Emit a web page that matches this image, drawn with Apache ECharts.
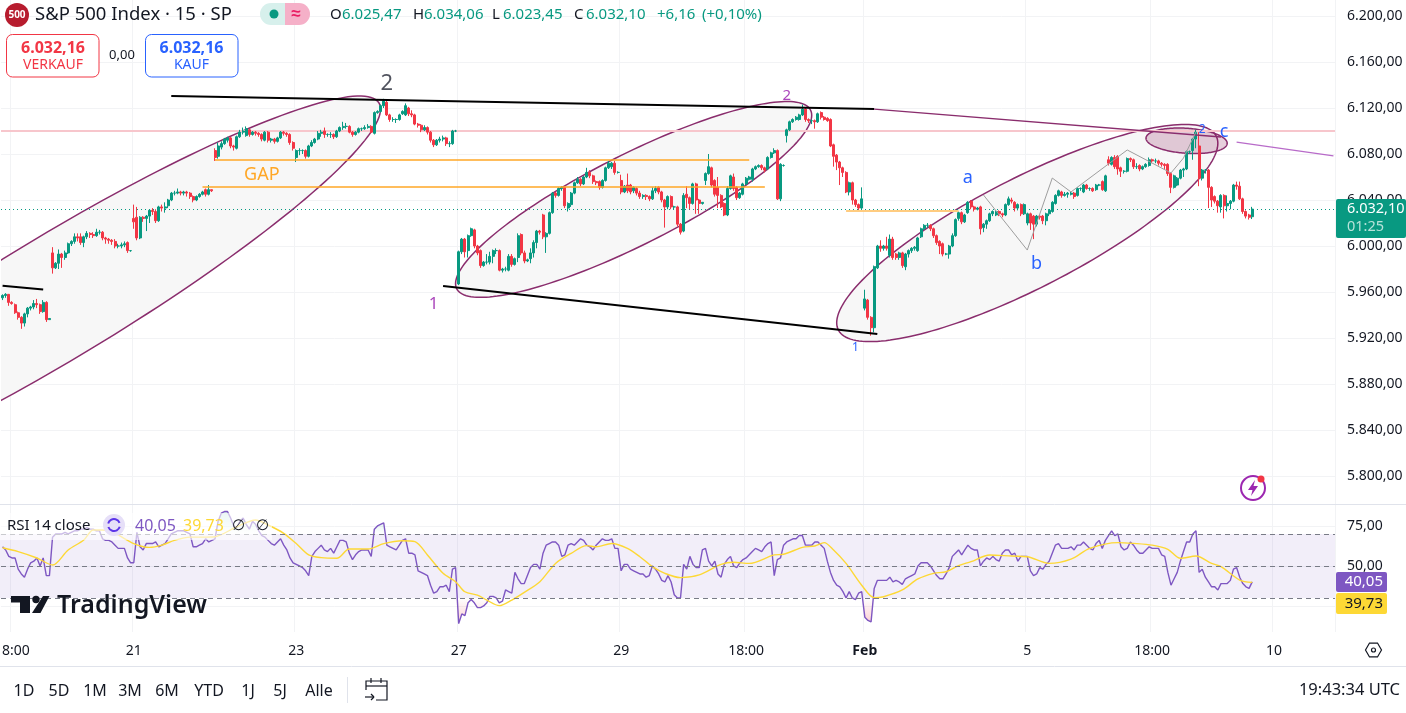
<!DOCTYPE html>
<html><head><meta charset="utf-8"><style>html,body{margin:0;padding:0;background:#fff}#c{width:1406px;height:713px}</style>
<script src="https://cdn.jsdelivr.net/npm/echarts@6/dist/echarts.min.js"></script></head><body><div id="c"></div><script>
// rows: open, close, low, high
const jan16=[[5955,5957,5953,5958],[5957,5958,5955,5959],[5958,5951,5948,5958],[5951,5950,5949,5952],[5949,5942,5941,5950],[5942,5938,5936,5943],[5938,5933,5928,5939],[5933,5941,5930,5942],[5941,5946,5938,5947],[5946,5947,5944,5948],[5947,5950,5945,5953],[5950,5949,5946,5954],[5949,5943,5941,5950],[5943,5951,5942,5953],[5951,5936,5934,5952],[5936,5937,5936,5937]];
const jan17=[[5994,5981,5976,5999],[5981,5985,5980,5986],[5985,5993,5980,5997],[5993,5990,5981,5994],[5990,5994,5988,5996],[5994,6002,5993,6003],[6002,6004,6000,6005],[6004,6008,6002,6011],[6008,6007,6004,6011],[6008,6003,6001,6011],[6003,6008,5999,6009],[6008,6011,6006,6013],[6011,6010,6007,6012],[6010,6009,6007,6012],[6009,6012,6008,6015],[6012,6012,6010,6014],[6012,6007,6005,6013],[6007,6006,6002,6008],[6006,6005,6002,6007],[6005,6004,6001,6006],[6004,6000,5998,6006],[6000,6000,5998,6002],[6000,6001,5998,6003],[6001,6002,5999,6004],[6003,5996,5994,6004],[5996,5996,5995,5996]];
const jan21=[[6024,6021,6015,6036],[6025,6007,6005,6034],[6007,6025,6006,6026],[6025,6024,6021,6026],[6024,6026,6013,6027],[6026,6031,6020,6032],[6031,6030,6027,6033],[6030,6022,6020,6032],[6022,6034,6021,6035],[6034,6033,6030,6036],[6033,6034,6029,6038],[6035,6040,6033,6041],[6040,6046,6039,6047],[6046,6046,6044,6048],[6046,6047,6045,6050],[6047,6046,6044,6048],[6046,6047,6044,6048],[6047,6046,6043,6048],[6046,6043,6041,6047],[6043,6040,6038,6044],[6040,6043,6039,6044],[6043,6045,6042,6046],[6045,6047,6044,6048],[6049,6045,6043,6050],[6045,6049,6044,6053],[6049,6048,6047,6049]];
const jan22=[[6083,6077,6074,6085],[6078,6087,6076,6090],[6086,6089,6084,6091],[6089,6093,6088,6094],[6092,6094,6090,6095],[6094,6087,6085,6095],[6087,6086,6083,6088],[6085,6095,6084,6096],[6095,6099,6094,6101],[6099,6100,6097,6103],[6096,6102,6095,6104],[6101,6097,6095,6102],[6097,6099,6096,6100],[6099,6098,6096,6100],[6098,6097,6095,6099],[6097,6093,6091,6098],[6092,6099,6091,6100],[6099,6092,6090,6100],[6092,6093,6090,6094],[6093,6091,6089,6094],[6091,6094,6090,6095],[6094,6099,6093,6100],[6099,6098,6096,6100],[6098,6097,6095,6099],[6097,6090,6088,6098],[6090,6085,6083,6091]];
const jan23=[[6077,6083,6073,6084],[6083,6083,6079,6085],[6083,6083,6080,6084],[6083,6078,6076,6084],[6078,6087,6077,6088],[6087,6090,6086,6092],[6090,6093,6089,6094],[6093,6098,6092,6100],[6098,6099,6095,6101],[6100,6097,6094,6103],[6097,6097,6095,6098],[6097,6097,6094,6099],[6097,6095,6093,6098],[6095,6100,6094,6101],[6100,6103,6099,6104],[6103,6104,6101,6108],[6104,6104,6102,6107],[6104,6099,6098,6105],[6099,6097,6095,6100],[6097,6099,6096,6100],[6099,6102,6098,6103],[6102,6102,6100,6103],[6102,6103,6101,6105],[6103,6104,6102,6106],[6104,6099,6098,6105],[6098,6116,6097,6117]];
const jan24=[[6116,6117,6115,6118],[6117,6122,6116,6123],[6122,6126,6120,6128],[6125,6114,6113,6127],[6114,6110,6108,6115],[6110,6110,6108,6112],[6110,6110,6107,6111],[6110,6114,6109,6115],[6115,6117,6114,6118],[6114,6122,6113,6124],[6120,6115,6113,6121],[6115,6114,6112,6118],[6114,6106,6105,6115],[6106,6105,6103,6107],[6105,6101,6099,6106],[6101,6103,6100,6105],[6103,6099,6097,6104],[6099,6092,6090,6100],[6092,6088,6086,6093],[6088,6092,6087,6093],[6092,6093,6090,6095],[6093,6094,6091,6096],[6094,6089,6087,6095],[6089,6089,6086,6091],[6089,6100,6088,6101],[6100,6100,6099,6101]];
const jan27=[[5967,5995,5966,5996],[5995,6006,5993,6007],[6006,5995,5990,6007],[5996,6009,5990,6010],[6009,6015,6008,6016],[6014,6000,5998,6015],[6000,5994,5992,6001],[5996,5983,5981,5997],[5983,5986,5982,5987],[5986,5986,5984,5993],[5986,5991,5984,5995],[5991,5996,5985,5997],[5996,5996,5993,5998],[5996,5979,5978,5997],[5979,5980,5977,5981],[5980,5980,5978,5982],[5979,5991,5978,5993],[5991,5984,5982,5993],[5984,5989,5983,5990],[5990,6009,5986,6011],[6010,5994,5992,6011],[5994,5987,5985,5996],[5987,5988,5986,5989],[5989,5994,5985,5998],[5994,6003,5990,6005],[6003,6013,5998,6014]];
const jan28=[[6013,6012,6010,6014],[6027,6008,6006,6028],[6008,6011,5994,6012],[6011,6029,6010,6030],[6029,6046,6028,6047],[6046,6044,6042,6047],[6044,6050,6043,6051],[6050,6051,6048,6052],[6051,6035,6033,6052],[6033,6037,6030,6038],[6036,6046,6034,6047],[6046,6055,6045,6056],[6055,6058,6054,6060],[6058,6054,6052,6059],[6054,6060,6053,6061],[6060,6064,6059,6068],[6064,6061,6059,6066],[6061,6056,6054,6062],[6056,6055,6053,6057],[6056,6051,6049,6057],[6051,6057,6050,6058],[6057,6068,6056,6069],[6068,6072,6067,6074],[6069,6072,6067,6073],[6072,6064,6062,6074],[6064,6064,6063,6065]];
const jan29=[[6057,6047,6045,6062],[6047,6052,6046,6053],[6053,6048,6046,6063],[6053,6047,6045,6054],[6048,6051,6046,6052],[6050,6046,6044,6051],[6046,6043,6041,6048],[6043,6044,6041,6045],[6044,6043,6040,6045],[6043,6041,6039,6044],[6041,6048,6040,6051],[6048,6050,6046,6052],[6051,6047,6045,6052],[6047,6040,6038,6048],[6040,6034,6016,6041],[6034,6043,6032,6044],[6043,6034,6032,6044],[6034,6034,6032,6035],[6034,6019,6017,6035],[6019,6012,6010,6020],[6013,6044,6012,6046],[6045,6042,6033,6052],[6042,6037,6032,6043],[6037,6054,6036,6055],[6054,6040,6028,6055],[6040,6037,6028,6041]];
const jan30=[[6037,6038,6036,6038],[6057,6063,6053,6064],[6063,6069,6062,6080],[6068,6053,6051,6069],[6057,6045,6043,6058],[6051,6044,6033,6060],[6044,6034,6033,6045],[6037,6027,6026,6038],[6027,6050,6026,6052],[6050,6061,6049,6062],[6060,6050,6048,6063],[6051,6042,6040,6052],[6042,6046,6041,6047],[6045,6054,6044,6055],[6054,6059,6053,6060],[6058,6060,6057,6061],[6058,6067,6056,6068],[6067,6069,6066,6070],[6069,6070,6068,6071],[6070,6068,6066,6071],[6068,6066,6064,6069],[6067,6077,6066,6078],[6077,6081,6076,6082],[6081,6083,6080,6085],[6083,6041,6040,6084],[6041,6071,6039,6072]];
const jan31=[[6070,6070,6069,6071],[6096,6101,6090,6102],[6101,6108,6100,6109],[6108,6110,6107,6111],[6110,6112,6109,6113],[6110,6114,6109,6115],[6114,6119,6113,6123],[6119,6110,6108,6120],[6110,6109,6107,6111],[6109,6109,6106,6110],[6109,6108,6102,6110],[6108,6115,6107,6116],[6116,6112,6110,6117],[6112,6110,6109,6113],[6111,6109,6108,6112],[6110,6087,6086,6111],[6088,6078,6069,6089],[6079,6073,6066,6080],[6073,6068,6053,6074],[6068,6064,6060,6069],[6064,6047,6046,6065],[6047,6055,6044,6056],[6055,6040,6036,6056],[6040,6036,6034,6041],[6036,6033,6030,6037],[6033,6041,6031,6051]];
const feb3=[[5946,5954,5944,5962],[5953,5938,5936,5954],[5938,5929,5922,5939],[5929,5982,5925,5983],[5981,6000,5980,6001],[6000,5998,5995,6005],[5998,6000,5996,6001],[6000,5998,5996,6008],[5992,6006,5990,6010],[6006,5990,5988,6008],[5993,5990,5988,5994],[5990,5994,5988,5995],[5994,5983,5981,5995],[5982,5993,5979,5994],[5993,5996,5990,5997],[5996,5998,5994,5999],[5998,5999,5996,6000],[5996,6007,5995,6008],[6008,6015,6007,6016],[6015,6018,6014,6019],[6018,6018,6016,6020],[6018,6015,6013,6019],[6015,6009,6007,6016],[6009,6003,6001,6010],[6004,6000,5993,6005],[6002,5993,5991,6003]];
const feb4=[[5993,5993,5992,5994],[5993,6000,5989,6001],[6000,6009,5999,6011],[6009,6023,6008,6024],[6024,6029,6022,6030],[6029,6021,6019,6030],[6021,6027,6020,6028],[6029,6038,6028,6039],[6039,6034,6032,6040],[6034,6032,6030,6035],[6032,6033,6031,6034],[6034,6015,6010,6035],[6016,6019,6012,6020],[6019,6022,6015,6023],[6022,6028,6021,6029],[6028,6030,6026,6031],[6027,6030,6026,6031],[6030,6028,6026,6031],[6028,6027,6025,6029],[6027,6036,6026,6037],[6036,6041,6035,6043],[6040,6039,6037,6042],[6038,6033,6030,6039],[6033,6036,6031,6037],[6036,6028,6026,6037],[6028,6036,6027,6037]];
const feb5=[[6020,6028,6018,6029],[6028,6020,6014,6029],[6026,6019,6006,6027],[6019,6026,6017,6027],[6026,6025,6023,6027],[6026,6022,6019,6027],[6022,6028,6018,6029],[6028,6031,6026,6032],[6030,6038,6029,6039],[6037,6044,6036,6045],[6044,6048,6043,6049],[6047,6044,6042,6048],[6044,6045,6043,6047],[6045,6046,6042,6047],[6045,6046,6044,6047],[6046,6043,6041,6047],[6044,6050,6043,6051],[6050,6050,6048,6051],[6047,6053,6046,6054],[6053,6050,6049,6054],[6050,6050,6048,6051],[6050,6048,6047,6051],[6049,6053,6048,6054],[6053,6053,6052,6054],[6056,6049,6048,6057],[6048,6061,6047,6062]];
const feb6=[[6075,6072,6070,6078],[6071,6077,6070,6078],[6077,6069,6067,6079],[6078,6067,6062,6079],[6068,6065,6060,6069],[6065,6065,6063,6066],[6065,6076,6064,6077],[6076,6075,6073,6077],[6075,6069,6067,6076],[6069,6069,6067,6072],[6070,6067,6065,6071],[6067,6069,6066,6070],[6069,6071,6068,6072],[6070,6075,6069,6077],[6075,6074,6072,6076],[6074,6074,6072,6076],[6074,6072,6070,6075],[6072,6071,6069,6073],[6071,6070,6067,6072],[6071,6063,6061,6072],[6063,6051,6046,6064],[6051,6061,6050,6062],[6053,6059,6052,6060],[6059,6066,6058,6067],[6066,6067,6060,6068],[6067,6082,6066,6083]];
const feb7=[[6082,6082,6080,6083],[6083,6093,6075,6094],[6093,6099,6085,6101],[6087,6059,6052,6099],[6059,6066,6057,6067],[6066,6066,6063,6067],[6066,6051,6033,6067],[6051,6040,6034,6052],[6043,6039,6037,6044],[6039,6035,6029,6040],[6034,6044,6029,6045],[6044,6035,6024,6045],[6035,6037,6030,6044],[6037,6039,6032,6040],[6039,6053,6038,6054],[6053,6052,6049,6056],[6052,6041,6040,6056],[6041,6030,6028,6042],[6030,6026,6024,6031],[6027,6025,6023,6028],[6025.47,6032.10,6023.45,6034.06]];
const rsiValues=[62,60,56,55,55,48,45,43,48,52,53,55,50,55,44,44,
68,70,70,70,71,70,71,72,72,73,73,74,73,73,72,72,
67,66,66,65,63,61,61,61,55,52,52,71,62,60,64,64,64,65,62,63,64,67,70,71,72,72,72,71,70,
62,62,63,64,67,65,66,67,78,83,84,84,80,75,74,78,80,76,73,78,76,72,69,68,66,64,63,65,67,63,60,55,52,51,50,49,47,44,56,59,61,63,60,59,61,58,62,66,66,65,58,54,57,59,60,60,60,56,73,75,76,77,63,62,61,60,63,66,67,58,58,57,47,46,45,44,38,33,34,37,37,38,34,48,49,
14,20,19,27,29,27,24,24,25,27,31,31,30,27,28,35,34,33,46,42,39,39,44,49,51,51,48,58,63,64,65,65,63,56,57,63,64,63,65,67,66,63,62,60,63,65,67,66,66,67,61,61,47,51,51,48,47,46,45,45,43,44,50,48,45,41,40,44,40,32,30,30,51,48,56,51,49,49,60,61,53,50,53,45,43,51,54,56,50,49,52,54,55,57,59,61,60,59,62,64,65,44,54,55,63,65,66,67,67,69,69,63,63,63,65,65,63,61,53,46,41,38,37,34,30,34,30,29,33,34,18,16,15,36,41,41,41,41,43,40,41,40,
38.5,42,43,44,45,50,52,52,52,50,47,44,42,42,45,49,56,58,60,57,60,63,61,60,60,50,53,55,54,56,54,53,58,60,60,57,58,53,56,56,56,47,44,45,49,48,51,53,58,63,64,61,61,61,62,60,63,63,65,63,61,60,64,66,61,66,69,72,69,70,62,60,61,65,63,60,58,58,60,62,61,61,61,57,56,46,38,42,46,53,59,65,65,70,72,46,48,43,40,37,37,35,39,39,39,41,48,49,43,39,37,36,40.05];
const signalIdx=[0,5,11,16,21,26,29,32,36,42,47,51,55,60,64,68,75,81,85,90,94,98,102,107,111,117,122,128,132,136,141,145,148,152,155,159,163,167,172,177,182,187,190,195,200,204,208,212,217,223,230,234,239,247,250,256,260,263,266,270,275,279,282,288,293,298,302,306,310,316,323,328,335,342,348,357,362,368,373,377,382,387,390,396,400];
const signalVal=[61.4,59,55,50.6,60,66.2,72.5,72.5,70.4,64,61.6,63,66,68,68,68.3,74.5,78.7,75.6,70.4,64,56.9,55.2,54.8,60.6,60.6,64,65.8,65.2,56.9,45.4,40.2,33.9,31.8,28.7,25.2,28.7,33.5,40.2,51.6,57.9,62.7,62,64,61,55.8,49.6,45.4,42.7,44.4,51,52.3,51.6,56.9,57.3,61.6,62.5,64.6,60,51.6,38,30.2,30.8,35,41.9,45.4,46.4,50.2,52.7,56.9,56.2,55.8,51.6,54.3,61,64.6,64.1,63,60.4,54.8,56.2,51.6,49.6,41.2,39.73];
const priceTicks=[5800,5840,5880,5920,5960,6000,6040,6080,6120,6160,6200];
const rsiTicks=[25,50,75];
const rsiLabelTicks=[50,75];
const tickIndex=[3,42,94,146,198,238,276,328,368,407];
const tickLabels=['18:00','21','23','27','29','18:00','Feb','5','18:00','10'];
const barSlots=427;
const lastPrice=6032.10, resistance=6100;
// drawings, anchored in bar index + price
const ellipseCenter=[[18,5956],[202,6040.5],[328,6011.3],[379,6091.5]];
const ellipseTip=[[121,6119],[259,6113.7],[389,6089.3],[392,6089.3]];
const ellipseSide=[[18,6018],[202,6084],[328,6064.5],[379,6102.4]];
const blackLines=[[[54,6130.4],[279,6119.1]],[[0,5965.5],[13,5962.2]],[[141,5965.2],[280,5923.5]]];
const maroonLine=[[279,6119.1],[390,6094.8]];
const purpleLine=[[395,6090.4],[426,6078.3]];
const greyWave=[[314,6044.3],[328,5996.5],[336,6059.1],[342,6047],[360,6083.5],[374,6063.5],[378,6076.5],[382,6099.1]];
const gapLines=[[[68,6074.8],[239,6074.8]],[[64,6051.3],[244,6051.3]],[[270,6030.4],[306,6030.4]]];
const noteText=['2','GAP','1','2','1','a','b','c','2'];
const noteAt=[[123,6140.9],[83,6061.7],[138,5949.6],[251,6130.4],[273,5911.3],[309,6059.1],[331,5984.3],[391,6099.1],[384,6100.9]];

const F='"Noto Sans",sans-serif';
const noteStyle=[[22,'#50535e'],[18,'#ffa726'],[17,'#ab47bc'],[15,'#ab47bc'],[12,'#2962ff'],[18,'#2962ff'],[18,'#2962ff'],[18,'#2962ff'],[12,'#2962ff']];
const candles=[...jan16,...jan17,...jan21,...jan22,...jan23,...jan24,...jan27,...jan28,...jan29,...jan30,...jan31,...feb3,...feb4,...feb5,...feb6,...feb7];
const cats=Array.from({length:barSlots},(_,i)=>String(i));
const de=v=>{const[a,b]=v.toFixed(2).split('.');return a.replace(/\B(?=(\d{3})+$)/g,'.')+','+b;};
const seg=(data,color,width,extra)=>Object.assign({type:'line',data,xAxisIndex:0,yAxisIndex:0,symbol:'none',silent:true,lineStyle:{color,width},z:4,clip:true},extra||{});
const ellipseFill=['#f7f7f7','#f7f7f7','#f7f7f7','rgba(136,14,79,0.2)'];

function T(x,y,text,font,fill,align,extra){return Object.assign({type:'text',z:100,silent:true,style:{x,y,text,font:font+' '+F,fill,textAlign:align||'left',textVerticalAlign:'middle'}},extra||{});}
function R(x,y,w,h,r,fill,stroke,lw){return {type:'rect',z:99,silent:true,shape:{x,y,width:w,height:h,r},style:{fill,stroke,lineWidth:lw||0}};}
function L(x1,y1,x2,y2,c,w){return {type:'line',z:99,silent:true,shape:{x1,y1,x2,y2},style:{stroke:c,lineWidth:w||1}};}
const rangeLabels=[['1D',24],['5D',59],['1M',95],['3M',130],['6M',167],['YTD',209],['1J',248],['5J',280],['Alle',319]];
const hex=[];for(let k=0;k<6;k++){const a=Math.PI/3*k;hex.push([1373.5+8*Math.cos(a),650+8*Math.sin(a)]);}
const chrome=[
 L(0,504.5,1406,504.5,'#e0e3eb'),L(0,666.5,1406,666.5,'#e0e3eb'),L(347.5,677,347.5,703,'#e0e3eb'),
 {type:'circle',z:99,silent:true,shape:{cx:17,cy:15,r:12},style:{fill:'#b71c2e'}},
 T(17,15.5,'500','bold 10px','#fff','center'),
 T(35,15,'S&P 500 Index · 15 · SP','18.5px','#131722'),
 R(260,3,25,22,[11,0,0,11],'#d7f0ec'),R(285,3,25,22,[0,11,11,0],'#f5b0c8'),
 {type:'circle',z:100,silent:true,shape:{cx:274,cy:14,r:4.5},style:{fill:'#089981'}},
 T(296,14,'≈','bold 17px','#e91e63','center'),
 T(330,15,'O','15px','#131722'),T(342,15,'6.025,47','15px','#089981'),
 T(413,15,'H','15px','#131722'),T(424,15,'6.034,06','15px','#089981'),
 T(492,15,'L','15px','#131722'),T(503,15,'6.023,45','15px','#089981'),
 T(574,15,'C','15px','#131722'),T(586,15,'6.032,10','15px','#089981'),
 T(657,15,'+6,16','15px','#089981'),T(702,15,'(+0,10%)','15px','#089981'),
 R(6.5,34.5,92.5,42.5,6,'#fff','#f23645',1),T(53,48,'6.032,16','bold 16px','#f23645','center'),T(53,65,'VERKAUF','14px','#f23645','center'),
 T(122,55,'0,00','13px','#131722','center'),
 R(145.5,34.5,92.5,42.5,6,'#fff','#2962ff',1),T(191.5,48,'6.032,16','bold 16px','#2962ff','center'),T(191.5,65,'KAUF','14px','#2962ff','center'),
 R(1336,199,70,39,2,'#089981'),T(1347,209,'6.032,10','14.5px','#fff'),T(1347,227,'01:25','14.5px','#b7e3da'),
 R(1336,572,51,20,2,'#7e57c2'),T(1383,582,'40,05','15px','#fff','right'),
 R(1336,593,51,21,2,'#fdd835'),T(1383,604,'39,73','15px','#131722','right'),
 R(0,513,272,27,0,'rgba(255,255,255,0.6)'),
 T(7,525.5,'RSI 14 close','15px','#131722'),
 {type:'circle',z:100,silent:true,shape:{cx:114,cy:525,r:11},style:{fill:'#e6dff8'}},
 {type:'arc',z:100,silent:true,shape:{cx:114,cy:525,r:6,startAngle:0.3,endAngle:2.8},style:{stroke:'#5c35e8',lineWidth:2,fill:'none'}},
 {type:'arc',z:100,silent:true,shape:{cx:114,cy:525,r:6,startAngle:3.4,endAngle:5.9},style:{stroke:'#5c35e8',lineWidth:2,fill:'none'}},
 T(135,526,'40,05','16px','#7e57c2'),T(183,526,'39,73','16px','#fdd835'),
 T(238,526,'∅','15px','#131722','center'),T(262,526,'∅','15px','#131722','center'),
 R(11,596,19,6.5,0,'#131722'),R(20,602,10,11,0,'#131722'),
 {type:'circle',z:100,silent:true,shape:{cx:36,cy:599.5,r:3.7},style:{fill:'#131722'}},
 {type:'polygon',z:100,silent:true,shape:{points:[[43,596],[49.5,596],[40.5,613],[32,613]]},style:{fill:'#131722'}},
 T(57,606,'TradingView','600 25px','#131722'),
 {type:'circle',z:100,silent:true,shape:{cx:1253,cy:488,r:12},style:{fill:'none',stroke:'#9c27b0',lineWidth:2}},
 {type:'polygon',z:100,silent:true,shape:{points:[[1255,480],[1248,490],[1252.5,490],[1251,496],[1258,486],[1253.5,486]]},style:{fill:'#9c27b0'}},
 {type:'circle',z:101,silent:true,shape:{cx:1261,cy:479,r:3.5},style:{fill:'#f23645'}},
 {type:'polygon',z:100,silent:true,shape:{points:hex},style:{fill:'none',stroke:'#131722',lineWidth:1.2}},
 {type:'circle',z:100,silent:true,shape:{cx:1373.5,cy:650,r:2},style:{fill:'none',stroke:'#131722',lineWidth:1.2}},
 ...rangeLabels.map(([t,x])=>T(x,691,t,'16px','#131722','center')),
 {type:'polyline',z:100,silent:true,shape:{points:[[366,690],[366,681],[387,681],[387,700],[376,700]]},style:{stroke:'#131722',lineWidth:1.2,fill:'none'}},
 L(366,686,387,686,'#131722',1.2),L(371,678,371,683,'#131722',1.2),L(381,678,381,683,'#131722',1.2),L(365,697,374,697,'#131722',1.2),L(371,694,374,697,'#131722',1.2),L(371,700,374,697,'#131722',1.2),
 T(1400,690,'19:43:34 UTC','16.5px','#131722','right')
];

const xBase=(gi,labels)=>({type:'category',gridIndex:gi,data:cats,boundaryGap:true,
 axisLine:{show:false},axisTick:{show:false,customValues:tickIndex,alignWithLabel:true},
 axisLabel:labels?{show:true,customValues:tickIndex,margin:12,fontFamily:F,fontSize:14,color:'#131722',hideOverlap:false,
   formatter:(v)=>{const k=tickIndex.indexOf(+v);const s=k>=0?tickLabels[k]:'';return s==='Feb'?'{b|Feb}':s;},rich:{b:{fontWeight:'bold',fontFamily:F,fontSize:14,color:'#131722'}}}:{show:false},
 splitLine:{show:true,lineStyle:{color:'#f2f3f5',width:1}}});

const option={animation:false,backgroundColor:'#fff',textStyle:{fontFamily:F},
 grid:[{left:1,width:1334,top:0,height:504,outerBoundsMode:'none'},{left:1,width:1334,top:505,height:127,outerBoundsMode:'none'}],
 xAxis:[xBase(0,false),xBase(1,true)],
 yAxis:[
  {type:'value',gridIndex:0,position:'right',min:5775.7,max:6213.9,axisLine:{show:false},axisTick:{show:false,customValues:priceTicks},
   axisLabel:{customValues:priceTicks,margin:12,fontFamily:F,fontSize:14,color:'#131722',formatter:de},splitLine:{show:true,lineStyle:{color:'#f2f3f5'}}},
  {type:'value',gridIndex:1,position:'right',min:8.75,max:88.1,axisLine:{show:false},axisTick:{show:false,customValues:rsiTicks},
   axisLabel:{customValues:rsiLabelTicks,margin:12,fontFamily:F,fontSize:14,color:'#131722',formatter:de},splitLine:{show:true,lineStyle:{color:'#f2f3f5'}}}],
 graphic:{elements:chrome},
 series:[
  {type:'custom',coordinateSystem:'cartesian2d',xAxisIndex:0,yAxisIndex:0,clip:true,silent:true,z:1,data:ellipseCenter,encode:{x:0,y:1},
   renderItem:(p,api)=>{const k=p.dataIndex;const c=api.coord(ellipseCenter[k]),a=api.coord(ellipseTip[k]),b=api.coord(ellipseSide[k]);const pts=[];
     for(let n=0;n<180;n++){const t=n/180*2*Math.PI;pts.push([c[0]+Math.cos(t)*(a[0]-c[0])+Math.sin(t)*(b[0]-c[0]),c[1]+Math.cos(t)*(a[1]-c[1])+Math.sin(t)*(b[1]-c[1])]);}
     return {type:'polygon',z2:k,shape:{points:pts},style:{fill:ellipseFill[k],stroke:'#8a2d6d',lineWidth:1.5}};}},
  {type:'candlestick',xAxisIndex:0,yAxisIndex:0,data:candles,barWidth:2.5,z:3,silent:true,
   itemStyle:{color:'#089981',color0:'#f23645',borderColor:'#089981',borderColor0:'#f23645',borderColorDoji:'#089981',borderWidth:1},
   markLine:{silent:true,symbol:'none',label:{show:false},animation:false,z:2,data:[
     {yAxis:resistance,lineStyle:{color:'#f7c6cc',width:2,type:'solid'}},
     {yAxis:lastPrice,lineStyle:{color:'#089981',width:1,type:[1,3]}}]}},
  ...blackLines.map(d=>seg(d,'#000',2)),
  seg(maroonLine,'#8a2d6d',1.3),seg(purpleLine,'#b86bc9',1.3),seg(greyWave,'#9e9e9e',1),
  seg(gapLines[0],'#ffa726',1.5),seg(gapLines[1],'#ffa726',1.5),seg(gapLines[2],'#ffcc80',2),
  {type:'custom',coordinateSystem:'cartesian2d',xAxisIndex:0,yAxisIndex:0,silent:true,z:6,data:noteAt,encode:{x:0,y:1},
   renderItem:(p,api)=>{const k=p.dataIndex,c=api.coord(noteAt[k]);return {type:'text',style:{x:c[0],y:c[1],text:noteText[k],fill:noteStyle[k][1],font:noteStyle[k][0]+'px '+F,textAlign:'center',textVerticalAlign:'middle'}};}},
  {type:'custom',coordinateSystem:'cartesian2d',xAxisIndex:1,yAxisIndex:1,silent:true,z:1,data:[[0,70]],encode:{x:0,y:1},
   renderItem:(p,api)=>{const t=api.coord([0,70])[1],b=api.coord([0,30])[1];return {type:'rect',shape:{x:0,y:t,width:p.coordSys.x+p.coordSys.width,height:b-t},style:{fill:'rgba(126,87,194,0.1)'}};}},
  {type:'line',xAxisIndex:1,yAxisIndex:1,data:rsiValues.map(v=>Math.max(v,70)),symbol:'none',silent:true,lineStyle:{width:0},z:2,
   areaStyle:{origin:70,color:new echarts.graphic.LinearGradient(0,0,0,1,[{offset:0,color:'rgba(8,153,129,0.3)'},{offset:1,color:'rgba(8,153,129,0)'}])}},
  {type:'line',xAxisIndex:1,yAxisIndex:1,data:rsiValues.map(v=>Math.min(v,30)),symbol:'none',silent:true,lineStyle:{width:0},z:2,
   areaStyle:{origin:30,color:new echarts.graphic.LinearGradient(0,0,0,1,[{offset:0,color:'rgba(242,54,69,0)'},{offset:1,color:'rgba(242,54,69,0.35)'}])}},
  {type:'line',xAxisIndex:1,yAxisIndex:1,data:rsiValues,symbol:'none',silent:true,lineStyle:{color:'#7e57c2',width:1.4},z:3,
   markLine:{silent:true,symbol:'none',label:{show:false},lineStyle:{color:'#787b86',width:1,type:[5,4]},data:[{yAxis:70},{yAxis:50},{yAxis:30}]}},
  {type:'line',xAxisIndex:1,yAxisIndex:1,data:signalIdx.map((x,i)=>[x,signalVal[i]]),symbol:'none',silent:true,smooth:0.3,lineStyle:{color:'#fdd835',width:1.4},z:4}
 ]};
const chart=echarts.init(document.getElementById('c'),null,{renderer:'canvas'});
chart.setOption(option);
</script></body></html>
